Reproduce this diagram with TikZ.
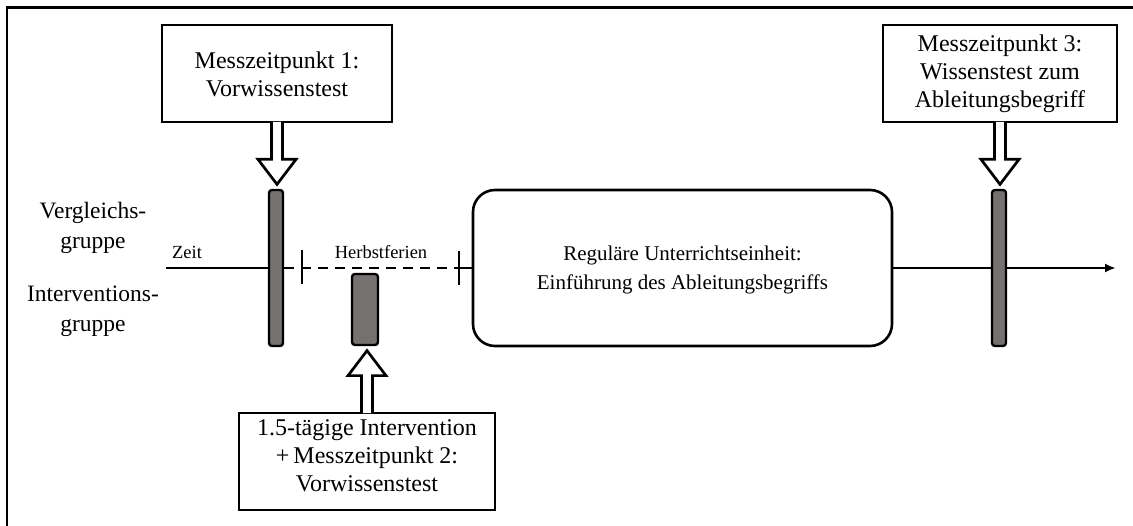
\documentclass[tikz,border=0pt]{standalone}
\usepackage{fontspec}
\setmainfont{Liberation Serif}
\usetikzlibrary{calc,arrows.meta}
\definecolor{bargray}{RGB}{118,113,113}
\begin{document}
\begin{tikzpicture}[x=1pt,y=-1pt,
  textbox/.style={draw, line width=2.7pt, fill=white, inner sep=0pt},
  boxtext/.style={align=center, inner sep=0pt, font=\fontsize{24}{28}\selectfont},
  bigbox/.style={draw, line width=2.6pt, rounded corners=22pt, inner sep=0pt},
  bigtext/.style={align=center, inner sep=0pt, font=\fontsize{21}{29}\selectfont},
  bar/.style={draw, line width=2.4pt, fill=bargray, rounded corners=3pt, inner sep=0pt},
  blockarrow/.style={draw, line width=2.7pt, fill=white, line join=miter},
  tl/.style={line width=2.4pt},
  grouplabel/.style={align=center, inner sep=0pt, font=\fontsize{23.5}{30}\selectfont},
  smalllabel/.style={inner sep=0pt, font=\fontsize{18.5}{22}\selectfont},
  frameline/.style={line width=2.2pt}
]
\useasboundingbox (0,0) rectangle (1133,526);

% outer frame (cropped at right and bottom)
\coordinate (fa) at (7,526);
\coordinate (fb) at (7,7.5);
\coordinate (fc) at (1133,7.5);
\draw[frameline] (fa) -- (fb) -- (fc);

% boxes
\node[textbox, minimum width=230pt, minimum height=97pt] (m1) at (277,73.5) {};
\node[boxtext] (m1t) at (277,74) {Messzeitpunkt 1:\\Vorwissenstest};
\node[textbox, minimum width=234pt, minimum height=97pt] (m3) at (1000,73.5) {};
\node[boxtext] (m3t) at (1000,74) {Messzeitpunkt 3:\\Wissenstest zum\\Ableitungsbegriff};
\node[textbox, minimum width=256pt, minimum height=97pt] (m2) at (367,461.5) {};
\node[boxtext] (m2t) at (367,456) {1.5-tägige Intervention\\+\,Messzeitpunkt 2:\\Vorwissenstest};

\node[bigbox, minimum width=419pt, minimum height=156pt] (ue) at (682.5,268) {};
\node[bigtext] (uet) at (682.5,270) {Reguläre Unterrichtseinheit:\\Einführung des Ableitungsbegriffs};

% labels
\node[grouplabel] (vg) at (93,228) {Vergleichs-\\gruppe};
\node[grouplabel] (ig) at (93,311.5) {Interventions-\\gruppe};
\node[smalllabel] (zeit) at (187,252) {Zeit};
\node[smalllabel] (hf) at (381,252) {Herbstferien};

% timeline
\coordinate (t0) at (166,268);
\coordinate (tend) at (1116,268);
\coordinate (k2) at (459,268);
\coordinate (k1a) at (302,250.5);
\coordinate (k1b) at (302,284.5);
\coordinate (k2a) at (459,251.5);
\coordinate (k2b) at (459,285.5);

\node[bar, minimum width=14pt, minimum height=156pt] (b1) at (276,268) {};
\node[bar, minimum width=14pt, minimum height=156pt] (b3) at (999,268) {};

\draw[tl] (t0) -- (b1.west);
\draw[tl, dash pattern=on 10pt off 7pt] (b1.east) -- (k2);
\draw[tl] (k2) -- (ue.west);
\draw[tl] (k1a) -- (k1b);
\draw[tl] (k2a) -- (k2b);
\draw[tl] (ue.east) -- (b3.west);
\draw[tl, -{Latex[length=11pt,width=9pt]}] (b3.east) -- (tend);

\node[bar, minimum width=26pt, minimum height=71pt] (b2) at (365,309.5) {};

% block arrows
\path[blockarrow] ($(m1.south)+(-5.5,-1.4)$) -- ($(m1.south)+(-5.5,36)$) -- ($(m1.south)+(-19,36)$)
  -- ($(m1.south)+(0,61)$) -- ($(m1.south)+(19,36)$) -- ($(m1.south)+(5.5,36)$) -- ($(m1.south)+(5.5,-1.4)$);
\path[blockarrow] ($(m3.south)+(-5.5,-1.4)$) -- ($(m3.south)+(-5.5,36)$) -- ($(m3.south)+(-19,36)$)
  -- ($(m3.south)+(0,61)$) -- ($(m3.south)+(19,36)$) -- ($(m3.south)+(5.5,36)$) -- ($(m3.south)+(5.5,-1.4)$);
\path[blockarrow] ($(m2.north)+(-5.5,1.4)$) -- ($(m2.north)+(-5.5,-36)$) -- ($(m2.north)+(-19,-36)$)
  -- ($(m2.north)+(0,-61)$) -- ($(m2.north)+(19,-36)$) -- ($(m2.north)+(5.5,-36)$) -- ($(m2.north)+(5.5,1.4)$);
\end{tikzpicture}
\end{document}
